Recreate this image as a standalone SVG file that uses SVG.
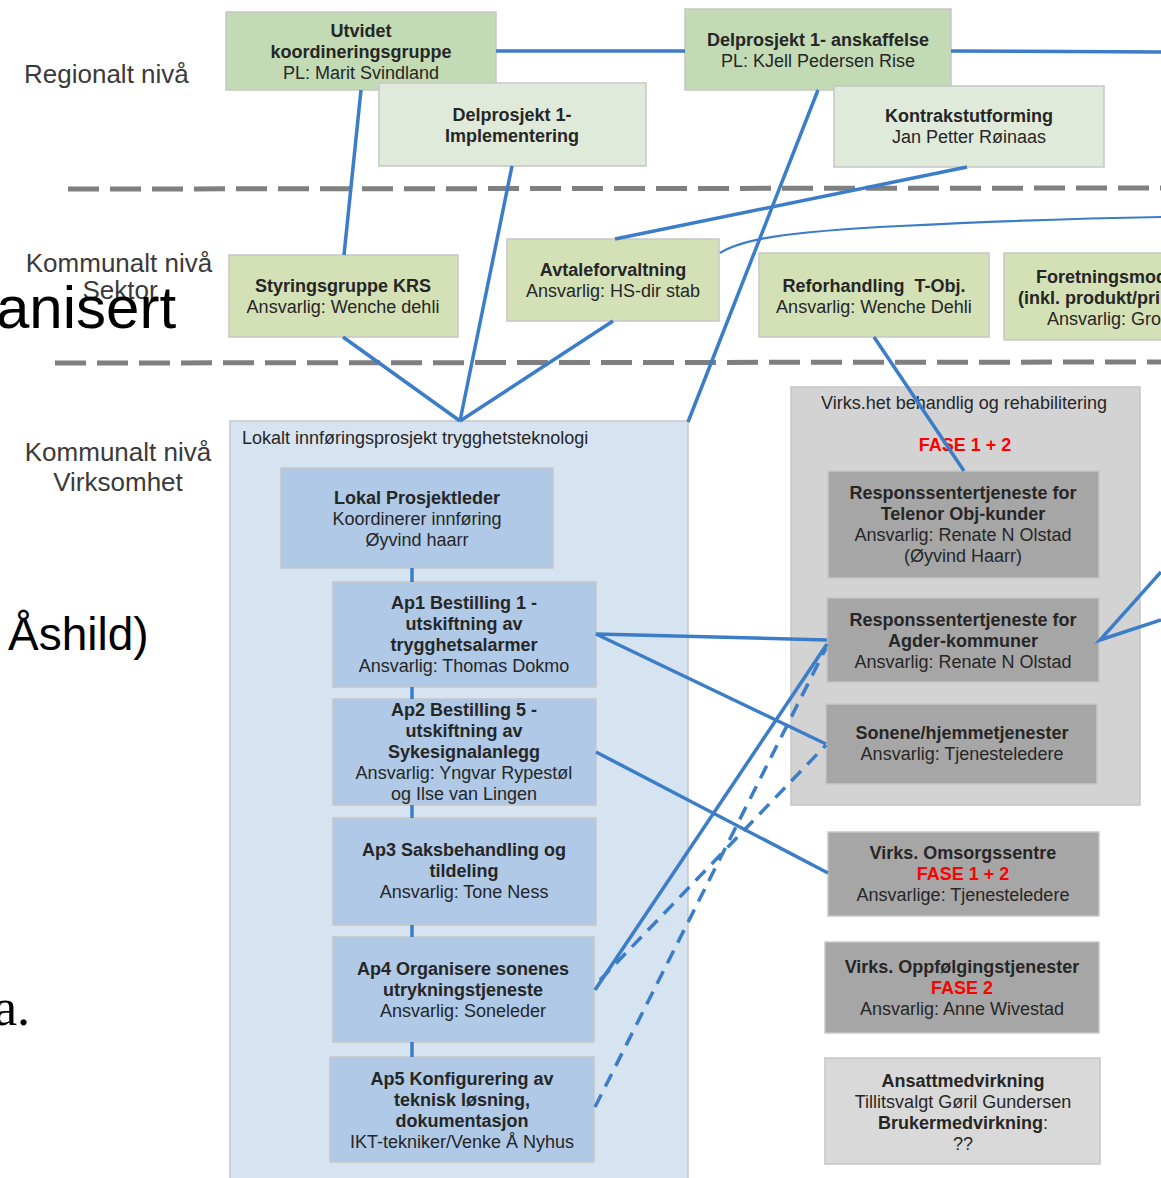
<svg xmlns="http://www.w3.org/2000/svg" width="1161" height="1178" viewBox="0 0 1161 1178">
<style>
text{font-family:"Liberation Sans",Arial,sans-serif;font-size:18px;fill:#262626;text-anchor:middle}
.b{font-weight:bold}
.red{fill:#ff0000;font-weight:bold}
.lbl{font-size:26px;fill:#3a3a3a}
.big{font-size:60px;fill:#000;text-anchor:start}
.st{text-anchor:start}
.box{stroke:#c6c6c6;stroke-width:1.5}
.g1{fill:#c2dbb5}
.g2{fill:#e0eadb}
.g3{fill:#d4e1b7}
.cb{fill:#d6e3f1}
.bl{fill:#afc9e6}
.cg{fill:#d3d3d3}
.dg{fill:#a6a6a6}
.lg{fill:#d9d9d9}
.sep{stroke:#7f7f7f;stroke-width:5;stroke-dasharray:31 11;fill:none}
.c{stroke:#3b7dc8;stroke-width:3.5;fill:none}
.dash{stroke-dasharray:14 9}
.thin{stroke-width:2.2}
</style>
<rect width="1161" height="1178" fill="#ffffff"/>

<g id="levels">
<line class="sep" x1="68" y1="189" x2="1161" y2="188"/>
<line class="sep" x1="55" y1="363" x2="1161" y2="362"/>
<text class="lbl st" x="24" y="83">Regionalt nivå</text>
<text class="lbl" x="119" y="272">Kommunalt nivå</text>
<text class="lbl" x="120" y="299">Sektor</text>
<text class="lbl" x="118" y="461">Kommunalt nivå</text>
<text class="lbl" x="118" y="491">Virksomhet</text>
<text class="big" x="-4" y="328">anisert</text>
<text class="big" x="8" y="650" style="font-size:46px">Åshild)</text>
<text class="big" x="-6" y="1025" style="font-family:'Liberation Serif','Times New Roman',serif;font-size:52px">a.</text>
</g>

<g id="utvidet">
<rect class="box g1" x="226" y="12" width="270" height="78"/>
<text class="b" x="361" y="37">Utvidet</text>
<text class="b" x="361" y="58">koordineringsgruppe</text>
<text x="361" y="79">PL: Marit Svindland</text>
</g>
<g id="delprosjekt-impl">
<rect class="box g2" x="379" y="83" width="267" height="83"/>
<text class="b" x="512" y="121">Delprosjekt 1-</text>
<text class="b" x="512" y="142">Implementering</text>
</g>
<g id="delprosjekt-anskaffelse">
<rect class="box g1" x="685" y="9" width="266" height="81"/>
<text class="b" x="818" y="46">Delprosjekt 1- anskaffelse</text>
<text x="818" y="67">PL: KJell Pedersen Rise</text>
</g>
<g id="kontrakt">
<rect class="box g2" x="834" y="86" width="270" height="81"/>
<text class="b" x="969" y="122">Kontrakstutforming</text>
<text x="969" y="143">Jan Petter Røinaas</text>
</g>

<g id="styringsgruppe">
<rect class="box g3" x="229" y="255" width="229" height="82"/>
<text class="b" x="343" y="292">Styringsgruppe KRS</text>
<text x="343" y="313">Ansvarlig: Wenche dehli</text>
</g>
<g id="avtaleforvaltning">
<rect class="box g3" x="507" y="239" width="212" height="82"/>
<text class="b" x="613" y="276">Avtaleforvaltning</text>
<text x="613" y="297">Ansvarlig: HS-dir stab</text>
</g>
<g id="reforhandling">
<rect class="box g3" x="759" y="253" width="230" height="84"/>
<text class="b" x="874" y="292" xml:space="preserve">Reforhandling  T-Obj.</text>
<text x="874" y="313">Ansvarlig: Wenche Dehli</text>
</g>
<g id="foretningsmodell">
<rect class="box g3" x="1004" y="253" width="170" height="87"/>
<text class="b st" x="1036" y="283">Foretningsmod</text>
<text class="b st" x="1018" y="304">(inkl. produkt/pri</text>
<text class="st" x="1047" y="325">Ansvarlig: Gro</text>
</g>

<g id="lokalt">
<rect class="box cb" x="230" y="421" width="458" height="770"/>
<text class="st" x="242" y="444">Lokalt innføringsprosjekt trygghetsteknologi</text>
</g>
<g id="lokal-prosjektleder">
<rect class="box bl" x="281" y="468" width="272" height="100"/>
<text class="b" x="417" y="504">Lokal Prosjektleder</text>
<text x="417" y="525">Koordinerer innføring</text>
<text x="417" y="546">Øyvind haarr</text>
</g>
<g id="ap1">
<rect class="box bl" x="333" y="582" width="263" height="105"/>
<text class="b" x="464" y="609">Ap1 Bestilling 1 -</text>
<text class="b" x="464" y="630">utskiftning av</text>
<text class="b" x="464" y="651">trygghetsalarmer</text>
<text x="464" y="672">Ansvarlig: Thomas Dokmo</text>
</g>
<g id="ap2">
<rect class="box bl" x="333" y="699" width="263" height="106"/>
<text class="b" x="464" y="716">Ap2 Bestilling 5 -</text>
<text class="b" x="464" y="737">utskiftning av</text>
<text class="b" x="464" y="758">Sykesignalanlegg</text>
<text x="464" y="779">Ansvarlig: Yngvar Rypestøl</text>
<text x="464" y="800">og Ilse van Lingen</text>
</g>
<g id="ap3">
<rect class="box bl" x="333" y="818" width="263" height="107"/>
<text class="b" x="464" y="856">Ap3 Saksbehandling og</text>
<text class="b" x="464" y="877">tildeling</text>
<text x="464" y="898">Ansvarlig: Tone Ness</text>
</g>
<g id="ap4">
<rect class="box bl" x="333" y="937" width="261" height="105"/>
<text class="b" x="463" y="975">Ap4 Organisere sonenes</text>
<text class="b" x="463" y="996">utrykningstjeneste</text>
<text x="463" y="1017">Ansvarlig: Soneleder</text>
</g>
<g id="ap5">
<rect class="box bl" x="330" y="1057" width="264" height="105"/>
<text class="b" x="462" y="1085">Ap5 Konfigurering av</text>
<text class="b" x="462" y="1106">teknisk løsning,</text>
<text class="b" x="462" y="1127">dokumentasjon</text>
<text x="462" y="1148">IKT-tekniker/Venke Å Nyhus</text>
</g>

<g id="virksomhet-behandling">
<rect class="box cg" x="791" y="387" width="349" height="418"/>
<text x="964" y="409">Virks.het behandlig og rehabilitering</text>
<text class="red" x="965" y="451">FASE 1 + 2</text>
</g>
<g id="respons-telenor">
<rect class="box dg" x="828" y="471" width="271" height="107"/>
<text class="b" x="963" y="499">Responssentertjeneste for</text>
<text class="b" x="963" y="520">Telenor Obj-kunder</text>
<text x="963" y="541">Ansvarlig: Renate N Olstad</text>
<text x="963" y="562">(Øyvind Haarr)</text>
</g>
<g id="respons-agder">
<rect class="box dg" x="827" y="598" width="272" height="84"/>
<text class="b" x="963" y="626">Responssentertjeneste for</text>
<text class="b" x="963" y="647">Agder-kommuner</text>
<text x="963" y="668">Ansvarlig: Renate N Olstad</text>
</g>
<g id="sonene">
<rect class="box dg" x="826" y="704" width="271" height="80"/>
<text class="b" x="962" y="739">Sonene/hjemmetjenester</text>
<text x="962" y="760">Ansvarlig: Tjenesteledere</text>
</g>
<g id="omsorgssentre">
<rect class="box dg" x="828" y="832" width="271" height="84"/>
<text class="b" x="963" y="859">Virks. Omsorgssentre</text>
<text class="red" x="963" y="880">FASE 1 + 2</text>
<text x="963" y="901">Ansvarlige: Tjenesteledere</text>
</g>
<g id="oppfolging">
<rect class="box dg" x="825" y="942" width="274" height="91"/>
<text class="b" x="962" y="973">Virks. Oppfølgingstjenester</text>
<text class="red" x="962" y="994">FASE 2</text>
<text x="962" y="1015">Ansvarlig: Anne Wivestad</text>
</g>
<g id="medvirkning">
<rect class="box lg" x="825" y="1058" width="275" height="106"/>
<text class="b" x="963" y="1087">Ansattmedvirkning</text>
<text x="963" y="1108">Tillitsvalgt Gøril Gundersen</text>
<text x="963" y="1129"><tspan class="b">Brukermedvirkning</tspan>:</text>
<text x="963" y="1150">??</text>
</g>

<g id="connectors">
<line class="c" x1="496" y1="51" x2="685" y2="51"/>
<line class="c" x1="951" y1="51" x2="1161" y2="52"/>
<line class="c" x1="361" y1="90" x2="344" y2="255"/>
<line class="c" x1="512" y1="166" x2="460" y2="421"/>
<line class="c" x1="343" y1="337" x2="460" y2="421"/>
<line class="c" x1="613" y1="321" x2="460" y2="421"/>
<line class="c" x1="818" y1="90" x2="688" y2="422"/>
<line class="c" x1="967" y1="167" x2="615" y2="239"/>
<path class="c thin" d="M720,253 C740,240 780,232 900,226 C1000,221 1100,218 1161,217"/>
<line class="c" x1="874" y1="337" x2="964" y2="471"/>
<line class="c" x1="412" y1="568" x2="412" y2="582"/>
<line class="c" x1="412" y1="687" x2="412" y2="699"/>
<line class="c" x1="412" y1="805" x2="412" y2="818"/>
<line class="c" x1="412" y1="925" x2="412" y2="937"/>
<line class="c" x1="412" y1="1042" x2="412" y2="1057"/>
<polyline class="c" points="827,640 596,634 826,744"/>
<line class="c" x1="596" y1="752" x2="828" y2="873"/>
<line class="c" x1="595" y1="990" x2="827" y2="644"/>
<line class="c dash" x1="600" y1="980" x2="826" y2="745"/>
<line class="c dash" x1="595" y1="1107" x2="826" y2="648"/>
<polyline class="c" points="1161,572 1100,640 1161,620"/>
</g>
</svg>
